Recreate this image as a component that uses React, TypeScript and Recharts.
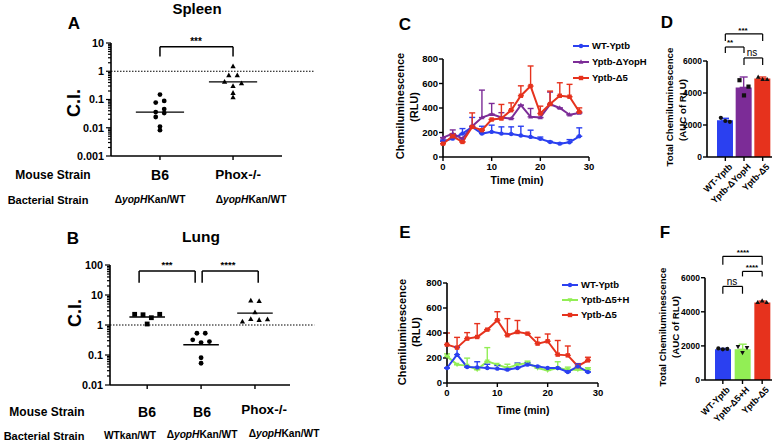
import React from "react";
import {
  ScatterChart, Scatter, LineChart, Line, ComposedChart, Bar, Cell,
  XAxis, YAxis, ReferenceLine, ErrorBar,
} from "recharts";

const FONT = '"Liberation Sans", Arial, Helvetica, sans-serif';
const BLUE = "#2b40f0";
const PURPLE = "#7c2c97";
const RED = "#e6321d";
const GREEN = "#92ee55";

// A: spleen competitive index (log scale), Prism column layout
const spleenB6 = [0.15, 0.078, 0.089, 0.036, 0.033, 0.024, 0.046, 0.011, 0.0082];
const spleenB6Col = [0, -0.5, 0.5, -0.5, 0.5, -0.5, 0.5, 0, 0];
const spleenPhox = [1.5, 0.72, 0.72, 0.42, 0.3, 0.37, 0.17, 0.12];
const spleenPhoxCol = [0, -0.5, 0.5, -1, 0, 1, 0, 0];
const spleenMedian = [0.036, 0.42];

// B: lung competitive index
const lungWt = [2.27, 2.2, 1.75, 2.27, 1.08];
const lungWtCol = [-1.5, -0.5, 0.5, 1.5, 0];
const lungB6 = [0.53, 0.53, 0.32, 0.26, 0.28, 0.081, 0.053];
const lungB6Col = [-0.5, 0.5, -1, 0, 1, 0, 0];
const lungPhox = [6.46, 6.3, 2.65, 1.29, 1.58, 1.47, 1.55];
const lungPhoxCol = [-0.5, 0.5, 0, -1.5, -0.5, 0.5, 1.5];
const lungMedian = [1.85, 0.22, 2.5];

// C: chemiluminescence kinetics
const minutes = [0, 2, 4, 6, 8, 10, 12, 14, 16, 18, 20, 22, 24, 26, 28];
const cWt = [128, 150, 191, 246, 191, 205, 191, 188, 175, 164, 148, 123, 109, 120, 169];
const cWtErr = [10, 25, 41, 77, 60, 55, 55, 58, 76, 55, 15, 5, 5, 22, 69];
const cYopH = [158, 191, 150, 251, 322, 350, 322, 314, 423, 328, 322, 430, 400, 345, 360];
const cYopHErr = [0, 30, 0, 0, 224, 87, 40, 0, 0, 68, 0, 100, 0, 0, 0];
const cD5 = [109, 169, 123, 246, 219, 306, 314, 382, 500, 579, 355, 432, 500, 492, 369];
const cD5Err = [0, 20, 0, 114, 0, 0, 115, 60, 81, 164, 60, 106, 106, 101, 32];

// E: chemiluminescence kinetics with complemented strain
const eWt = [120, 227, 128, 125, 120, 115, 107, 120, 147, 133, 120, 120, 88, 133, 88];
const eWtErr = [0, 60, 0, 45, 30, 25, 0, 40, 15, 0, 0, 0, 0, 20, 0];
const eD5H = [213, 147, 139, 107, 173, 147, 120, 147, 160, 120, 101, 120, 107, 107, 107];
const eD5HErr = [20, 0, 60, 0, 110, 0, 30, 0, 15, 0, 0, 50, 20, 0, 15];
const eD5 = [307, 283, 355, 368, 427, 502, 382, 408, 395, 315, 334, 227, 221, 135, 181];
const eD5Err = [93, 82, 48, 107, 0, 68, 133, 92, 0, 50, 58, 113, 75, 20, 25];

// D: total chemiluminescence (AUC)
const dNames = ["WT-Yptb", "Yptb-ΔYopH", "Yptb-Δ5"];
const dMean = [2300, 4350, 4900];
const dErr = [120, 650, 100];
const dRep1 = [2450, 4800, 5000];
const dRep2 = [2250, 3850, 4850];
const dRep3 = [2200, 4400, 4850];

// F: total chemiluminescence (AUC)
const fNames = ["WT-Yptb", "Yptb-Δ5+H", "Yptb-Δ5"];
const fMean = [1800, 1800, 4550];
const fErr = [50, 300, 80];
const fRep1 = [1850, 1950, 4550];
const fRep2 = [1800, 1600, 4650];
const fRep3 = [1820, 1900, 4550];

const colPoints = (g: number, vals: number[], cols: number[], unit: number) =>
  vals.map((v, i) => ({ x: g + cols[i] * unit, y: v }));

const kinetics = (a: number[], ae: number[], b: number[], be: number[], c: number[], ce: number[]) =>
  minutes.map((t, i) => ({
    t,
    a: a[i], aErr: [0, ae[i]],
    b: b[i], bErr: [0, be[i]],
    c: c[i], cErr: [0, ce[i]],
  }));

const aucRows = (names: string[], mean: number[], err: number[], r1: number[], r2: number[], r3: number[]) =>
  names.map((name, i) => ({
    name,
    mean: mean[i],
    e0: i === 0 ? [0, err[i]] : null,
    e1: i === 1 ? [0, err[i]] : null,
    e2: i === 2 ? [0, err[i]] : null,
    r1: r1[i], r2: r2[i], r3: r3[i],
  }));

function Mark({ shape, cx, cy, color, s = 2.4 }: any) {
  if (cx == null || cy == null) return null;
  if (shape === "square") return <rect x={cx - s} y={cy - s} width={s * 2} height={s * 2} fill={color} />;
  if (shape === "tri") return <path d={`M${cx},${cy - s * 1.2} L${cx + s * 1.1},${cy + s * 0.8} L${cx - s * 1.1},${cy + s * 0.8} Z`} fill={color} />;
  if (shape === "triDown") return <path d={`M${cx},${cy + s * 1.2} L${cx + s * 1.1},${cy - s * 0.8} L${cx - s * 1.1},${cy - s * 0.8} Z`} fill={color} />;
  return <circle cx={cx} cy={cy} r={s} fill={color} />;
}

const dotOf = (shape: string, color: string, s = 2.2) => (p: any) =>
  <Mark key={`m${p.index}`} shape={shape} cx={p.cx} cy={p.cy} color={color} s={s} />;

function Txt({ x, y, size = 12, rotate = 0, anchor = "middle", weight = "bold", children }: any) {
  const tx = anchor === "middle" ? "-50%" : anchor === "end" ? "-100%" : "0";
  return (
    <div style={{
      position: "absolute", left: x, top: y, whiteSpace: "nowrap",
      transform: `translate(${tx}, -50%) rotate(${rotate}deg)`,
      fontSize: size, fontWeight: weight, fontFamily: FONT, lineHeight: 1, color: "#000",
    }}>{children}</div>
  );
}

const yopH = <span>Δ<i>yopH</i>Kan/WT</span>;

function LogTick({ x, y, payload }: any) {
  const v = payload.value;
  const lg = Math.log10(v);
  const major = Math.abs(lg - Math.round(lg)) < 1e-6;
  return (
    <g>
      <line x1={x - (major ? 5 : 3)} x2={x} y1={y} y2={y} stroke="#000" strokeWidth={1.2} />
      {major && (
        <text x={x - 7} y={y} dy="0.36em" textAnchor="end" fontSize={10.8} fontWeight="bold" fontFamily={FONT} fill="#000">
          {String(v)}
        </text>
      )}
    </g>
  );
}

function RotTick({ x, y, payload }: any) {
  return (
    <text x={x + 3} y={y + 1} transform={`rotate(-45 ${x + 3} ${y + 1})`} textAnchor="end"
      fontSize={9} fontWeight="bold" fontFamily={FONT} fill="#000" dy="0.7em">
      {payload.value}
    </text>
  );
}

const logTicks = (lo: number, hi: number) => {
  const out: number[] = [];
  for (let e = lo; e < hi; e++) for (let m = 1; m < 10; m++) out.push(Number((m * Math.pow(10, e)).toPrecision(3)));
  out.push(Math.pow(10, hi));
  return out;
};

function bracket(key: string, x1: any, x2: any, top: number, leg: number, w = 1.5) {
  const st = { stroke: "#000", strokeWidth: w, ifOverflow: "visible" as const };
  return [
    <ReferenceLine key={key + "l"} segment={[{ x: x1, y: leg }, { x: x1, y: top }]} {...st} />,
    <ReferenceLine key={key + "t"} segment={[{ x: x1, y: top }, { x: x2, y: top }]} {...st} />,
    <ReferenceLine key={key + "r"} segment={[{ x: x2, y: top }, { x: x2, y: leg }]} {...st} />,
  ];
}

const axisLine = { stroke: "#000", strokeWidth: 1.6 };
const tickLine = { stroke: "#000", strokeWidth: 1.4 };
const tickFont = { fontSize: 9.5, fontWeight: "bold", fill: "#000", fontFamily: FONT };

function CIPanel({ top, height, margin, domainX, domainY, groups, medians, bracketEls, unit }: any) {
  const lo = Math.round(Math.log10(domainY[0]));
  const hi = Math.round(Math.log10(domainY[1]));
  return (
    <div style={{ position: "absolute", left: 0, top }}>
      <ScatterChart width={330} height={height} margin={margin}>
        <XAxis type="number" dataKey="x" domain={domainX} ticks={groups.map((_: any, i: number) => i + 1)}
          tickFormatter={() => ""} tickSize={4} axisLine={axisLine} tickLine={tickLine} height={10} allowDataOverflow />
        <YAxis type="number" dataKey="y" scale="log" domain={domainY} allowDataOverflow ticks={logTicks(lo, hi)}
          interval={0} width={50} tickSize={0} tickMargin={0} tickLine={false} axisLine={axisLine} tick={<LogTick />} />
        <ReferenceLine segment={[{ x: domainX[0], y: 1 }, { x: domainX[1] + 0.45, y: 1 }]} stroke="#000"
          strokeWidth={1.2} strokeDasharray="1.5 1.5" ifOverflow="visible" />
        {groups.map((g: any, i: number) => (
          <Scatter key={"s" + i} data={colPoints(i + 1, g.vals, g.cols, unit)} isAnimationActive={false}
            shape={(p: any) => <Mark shape={g.shape} cx={p.cx} cy={p.cy} color="#000" s={2.4} />} />
        ))}
        {medians.map((m: number, i: number) => (
          <ReferenceLine key={"m" + i} segment={[{ x: i + 1 - 0.33, y: m }, { x: i + 1 + 0.33, y: m }]}
            stroke="#000" strokeWidth={1.3} ifOverflow="visible" />
        ))}
        {bracketEls}
      </ScatterChart>
    </div>
  );
}

function KineticsPanel({ left, top, width, margin, rows, series }: any) {
  return (
    <div style={{ position: "absolute", left, top }}>
      <LineChart width={width} height={185} data={rows} margin={margin}>
        <XAxis type="number" dataKey="t" domain={[0, 30]} ticks={[0, 10, 20, 30]} tickSize={4} tickMargin={2}
          axisLine={axisLine} tickLine={tickLine} tick={tickFont} height={20} />
        <YAxis type="number" domain={[0, 800]} ticks={[0, 200, 400, 600, 800]} tickSize={4} tickMargin={1}
          axisLine={axisLine} tickLine={tickLine} tick={tickFont} width={35} />
        {series.map((s: any) => (
          <Line key={s.key} dataKey={s.key} stroke={s.color} strokeWidth={2} isAnimationActive={false}
            dot={dotOf(s.shape, s.color)} activeDot={false}>
            <ErrorBar dataKey={s.key + "Err"} width={3} stroke={s.color} strokeWidth={1.4} direction="y" />
          </Line>
        ))}
      </LineChart>
    </div>
  );
}

function AucPanel({ top, height, margin, rows, colors, shapes, padLeft, brackets }: any) {
  const reps = ["r1", "r2", "r3"];
  const jitter = [-4.5, 0, 4.5];
  return (
    <div style={{ position: "absolute", left: 660, top }}>
      <ComposedChart width={118} height={height} data={rows} margin={margin} barCategoryGap={2}>
        <XAxis dataKey="name" type="category" padding={{ left: padLeft, right: 0 }} tickSize={4} tickMargin={1}
          axisLine={axisLine} tickLine={tickLine} tick={<RotTick />} interval={0} height={55} />
        <YAxis type="number" domain={[0, 6000]} ticks={[0, 2000, 4000, 6000]} tickSize={4} tickMargin={1}
          axisLine={axisLine} tickLine={tickLine} tick={{ ...tickFont, fontSize: 8.5 }} width={35} allowDataOverflow />
        <Bar dataKey="mean" barSize={16} isAnimationActive={false}>
          {rows.map((_: any, i: number) => <Cell key={i} fill={colors[i]} />)}
          {colors.map((c: string, i: number) => (
            <ErrorBar key={"e" + i} dataKey={"e" + i} width={4} stroke={c} strokeWidth={1.4} direction="y" />
          ))}
        </Bar>
        {reps.map((r, k) => (
          <Line key={r} dataKey={r} stroke="none" isAnimationActive={false} activeDot={false}
            dot={(p: any) => <Mark key={r + p.index} shape={shapes[p.index]} cx={p.cx + jitter[k]} cy={p.cy}
              color="#111" s={2.1} />} />
        ))}
        {brackets}
      </ComposedChart>
    </div>
  );
}

function Legend({ x, y, items }: any) {
  return (
    <>
      {items.map((it: any, i: number) => (
        <React.Fragment key={i}>
          <svg style={{ position: "absolute", left: x, top: y[i] - 5 }} width={16} height={10}>
            <line x1={0} x2={16} y1={5} y2={5} stroke={it.color} strokeWidth={2} />
            <Mark shape={it.shape} cx={8} cy={5} color={it.color} s={2.2} />
          </svg>
          <Txt x={x + 19} y={y[i]} size={9.5} anchor="start">{it.label}</Txt>
        </React.Fragment>
      ))}
    </>
  );
}

export default function App() {
  const cRows = kinetics(cWt, cWtErr, cYopH, cYopHErr, cD5, cD5Err);
  const eRows = kinetics(eWt, eWtErr, eD5H, eD5HErr, eD5, eD5Err);
  const cSeries = [
    { key: "a", color: BLUE, shape: "circle" },
    { key: "b", color: PURPLE, shape: "tri" },
    { key: "c", color: RED, shape: "square" },
  ];
  const eSeries = [
    { key: "b", color: GREEN, shape: "triDown" },
    { key: "c", color: RED, shape: "square" },
    { key: "a", color: BLUE, shape: "circle" },
  ];

  return (
    <div style={{ position: "absolute", left: 0, top: 0, width: 778, height: 443, background: "#fff", overflow: "hidden" }}>
      {/* A */}
      <CIPanel top={0} height={170} margin={{ top: 43, right: 48, bottom: 4, left: 61 }}
        domainX={[0.33, 2.67]} domainY={[0.001, 10]} unit={0.116}
        groups={[
          { vals: spleenB6, cols: spleenB6Col, shape: "circle" },
          { vals: spleenPhox, cols: spleenPhoxCol, shape: "tri" },
        ]}
        medians={spleenMedian}
        bracketEls={bracket("a", 1, 2, 7.4, 3.3)} />
      <Txt x={197} y={8} size={15}>Spleen</Txt>
      <Txt x={74} y={23} size={17}>A</Txt>
      <Txt x={196} y={42} size={10}>***</Txt>
      <Txt x={74} y={103} size={18} rotate={-90}>C.I.</Txt>
      <Txt x={53} y={175} size={12}>Mouse Strain</Txt>
      <Txt x={160} y={175} size={14}>B6</Txt>
      <Txt x={238} y={175} size={13.5}>Phox-/-</Txt>
      <Txt x={48} y={200} size={11}>Bacterial Strain</Txt>
      <Txt x={150} y={200} size={10.2}>{yopH}</Txt>
      <Txt x={251} y={200} size={10.2}>{yopH}</Txt>

      {/* B */}
      <CIPanel top={200} height={200} margin={{ top: 65, right: 40, bottom: 5, left: 60 }}
        domainX={[0.31, 3.65]} domainY={[0.01, 100]} unit={0.155}
        groups={[
          { vals: lungWt, cols: lungWtCol, shape: "square" },
          { vals: lungB6, cols: lungB6Col, shape: "circle" },
          { vals: lungPhox, cols: lungPhoxCol, shape: "tri" },
        ]}
        medians={lungMedian}
        bracketEls={[...bracket("b1", 0.85, 1.89, 63, 25.7), ...bracket("b2", 2.02, 3.06, 63, 25.7)]} />
      <Txt x={73} y={238} size={17}>B</Txt>
      <Txt x={201} y={237} size={15.5}>Lung</Txt>
      <Txt x={167} y={265} size={9.5}>***</Txt>
      <Txt x={228} y={265} size={9.5}>****</Txt>
      <Txt x={75} y={313} size={18} rotate={-90}>C.I.</Txt>
      <Txt x={47} y={412} size={12}>Mouse Strain</Txt>
      <Txt x={147} y={412} size={14}>B6</Txt>
      <Txt x={202} y={412} size={14}>B6</Txt>
      <Txt x={264} y={410} size={13.5}>Phox-/-</Txt>
      <Txt x={44} y={436} size={11}>Bacterial Strain</Txt>
      <Txt x={130} y={436} size={10.2}>WTkan/WT</Txt>
      <Txt x={202} y={435} size={10.2}>{yopH}</Txt>
      <Txt x={284} y={434} size={10.2}>{yopH}</Txt>

      {/* C */}
      <KineticsPanel left={380} top={20} width={215} rows={cRows} series={cSeries}
        margin={{ top: 39, right: 6, bottom: 28, left: 28 }} />
      <Txt x={405} y={24} size={17}>C</Txt>
      <Txt x={400} y={106} size={11} rotate={-90}>Chemiluminescence</Txt>
      <Txt x={414} y={107} size={11} rotate={-90}>(RLU)</Txt>
      <Txt x={517} y={180} size={10.5}>Time (min)</Txt>
      <Legend x={573} y={[46, 62, 78]} items={[
        { color: BLUE, shape: "circle", label: "WT-Yptb" },
        { color: PURPLE, shape: "tri", label: "Yptb-ΔYopH" },
        { color: RED, shape: "square", label: "Yptb-Δ5" },
      ]} />

      {/* E */}
      <KineticsPanel left={380} top={250} width={225} rows={eRows} series={eSeries}
        margin={{ top: 33, right: 7, bottom: 32, left: 32 }} />
      <Txt x={405} y={232} size={17}>E</Txt>
      <Txt x={402} y={332} size={11} rotate={-90}>Chemiluminescence</Txt>
      <Txt x={416} y={332} size={11} rotate={-90}>(RLU)</Txt>
      <Txt x={523} y={410} size={10.5}>Time (min)</Txt>
      <Legend x={562} y={[285, 300, 315]} items={[
        { color: BLUE, shape: "circle", label: "WT-Yptb" },
        { color: GREEN, shape: "triDown", label: "Yptb-Δ5+H" },
        { color: RED, shape: "square", label: "Yptb-Δ5" },
      ]} />

      {/* D */}
      <AucPanel top={0} height={215} margin={{ top: 61, right: 6, bottom: 3, left: 12 }}
        rows={aucRows(dNames, dMean, dErr, dRep1, dRep2, dRep3)} padLeft={9}
        colors={[BLUE, PURPLE, RED]} shapes={["circle", "square", "tri"]}
        brackets={[
          ...bracket("d1", dNames[0], dNames[2], 7690, 7250, 1.2),
          ...bracket("d2", dNames[0], dNames[1], 6875, 6500, 1.2),
          ...bracket("d3", dNames[1], dNames[2], 6190, 5750, 1.2),
        ]} />
      <Txt x={667} y={22} size={17}>D</Txt>
      <Txt x={670} y={107} size={9.7} rotate={-90}>Total Chemiluminescence</Txt>
      <Txt x={683} y={110} size={9.7} rotate={-90}>(AUC of RLU)</Txt>
      <Txt x={743} y={31} size={8}>***</Txt>
      <Txt x={730} y={43} size={8}>**</Txt>
      <Txt x={752} y={53} size={10} weight="normal">ns</Txt>

      {/* F */}
      <AucPanel top={215} height={228} margin={{ top: 62.7, right: 6, bottom: 8, left: 10 }}
        rows={aucRows(fNames, fMean, fErr, fRep1, fRep2, fRep3)} padLeft={8}
        colors={[BLUE, GREEN, RED]} shapes={["circle", "triDown", "tri"]}
        brackets={[
          ...bracket("f1", fNames[0], fNames[2], 7253, 6765, 1.2),
          ...bracket("f2", fNames[1], fNames[2], 6370, 6076, 1.2),
          ...bracket("f3", fNames[0], fNames[1], 5490, 5060, 1.2),
        ]} />
      <Txt x={665} y={232} size={17}>F</Txt>
      <Txt x={663} y={327} size={9.7} rotate={-90}>Total Chemiluminescence</Txt>
      <Txt x={676} y={327} size={9.7} rotate={-90}>(AUC of RLU)</Txt>
      <Txt x={743} y={253} size={8}>****</Txt>
      <Txt x={752} y={268} size={8}>****</Txt>
      <Txt x={732} y={282} size={10} weight="normal">ns</Txt>
    </div>
  );
}
